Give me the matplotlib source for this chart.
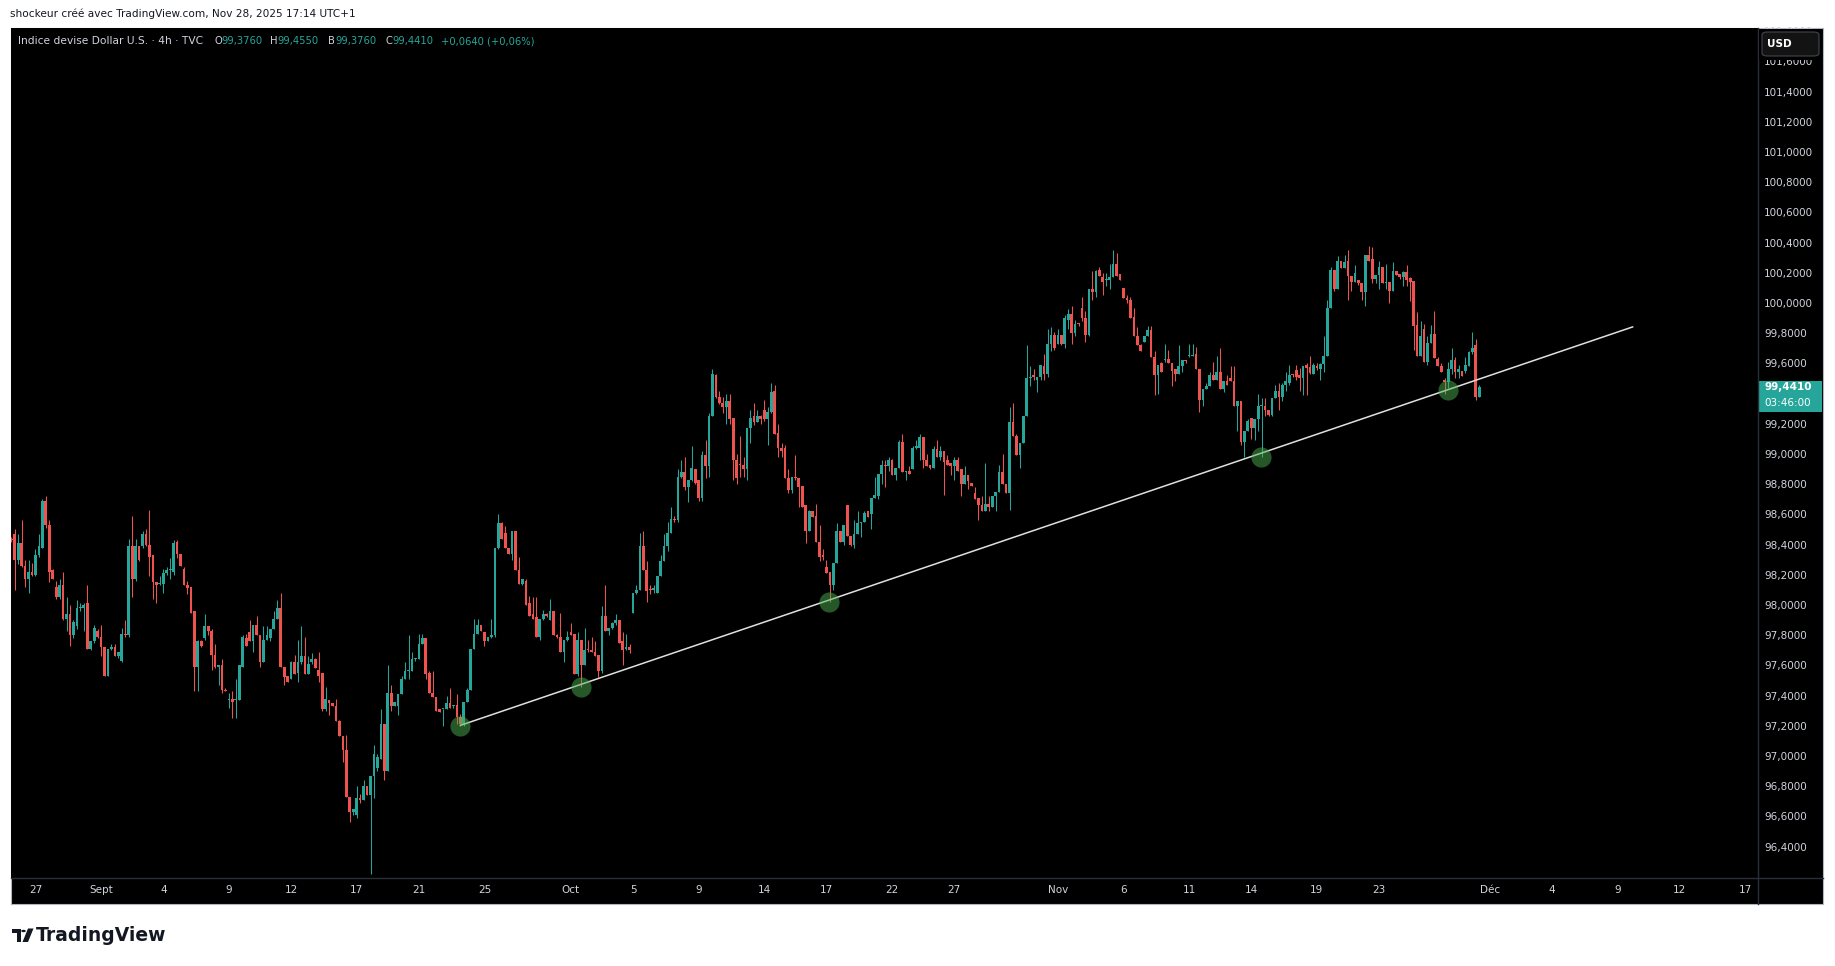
import matplotlib
matplotlib.use("Agg")
import matplotlib.pyplot as plt
from matplotlib.patches import Rectangle, FancyBboxPatch, Circle, Polygon
from matplotlib.lines import Line2D
from matplotlib.transforms import blended_transform_factory
import numpy as np

# ---- data: DXY 4h candles, Aug 26 -> Nov 28 2025 ----
opens = [
    98.44, 98.47, 98.30, 98.41, 98.26, 98.17, 98.22, 98.20, 98.33, 98.38,
    98.69, 98.53, 98.23, 98.12, 98.05, 98.13, 97.91, 97.94, 97.80, 97.86,
    97.98, 97.98, 98.01, 97.71, 97.76, 97.83, 97.79, 97.72, 97.53, 97.71,
    97.72, 97.66, 97.63, 97.81, 97.80, 98.39, 98.17, 98.39, 98.39, 98.47,
    98.40, 98.33, 98.15, 98.14, 98.14, 98.21, 98.23, 98.22, 98.42, 98.34,
    98.24, 98.13, 98.12, 97.96, 97.59, 97.76, 97.78, 97.86, 97.83, 97.67,
    97.59, 97.60, 97.44, 97.37, 97.38, 97.37, 97.37, 97.59, 97.78, 97.82,
    97.76, 97.87, 97.80, 97.62, 97.77, 97.78, 97.84, 97.91, 97.98, 97.59,
    97.53, 97.51, 97.62, 97.55, 97.62, 97.66, 97.54, 97.62, 97.64, 97.57,
    97.55, 97.31, 97.37, 97.35, 97.33, 97.23, 97.13, 97.04, 96.73, 96.63,
    96.61, 96.72, 96.71, 96.80, 96.74, 96.87, 96.92, 96.98, 97.21, 96.90,
    97.42, 97.33, 97.33, 97.41, 97.51, 97.56, 97.56, 97.64, 97.64, 97.74,
    97.78, 97.55, 97.42, 97.39, 97.31, 97.31, 97.31, 97.35, 97.33, 97.34,
    97.26, 97.21, 97.36, 97.44, 97.71, 97.81, 97.87, 97.82, 97.76, 97.79,
    97.80, 98.38, 98.54, 98.48, 98.38, 98.34, 98.49, 98.23, 98.14, 98.16,
    98.01, 97.94, 97.92, 97.79, 97.91, 97.94, 97.90, 97.96, 97.80, 97.79,
    97.69, 97.77, 97.82, 97.81, 97.54, 97.77, 97.60, 97.71, 97.70, 97.69,
    97.67, 97.56, 97.93, 97.83, 97.85, 97.88, 97.90, 97.76, 97.71, 97.72,
    97.95, 98.08, 98.10, 98.39, 98.23, 98.105, 98.10, 98.08, 98.19, 98.29,
    98.39, 98.48, 98.57, 98.56, 98.85, 98.88, 98.78, 98.83, 98.90, 98.83,
    98.71, 98.99, 98.92, 99.25, 99.52, 99.38, 99.34, 99.31, 99.35, 99.24,
    98.96, 98.935, 98.93, 98.90, 99.17, 99.25, 99.21, 99.25, 99.29, 99.23,
    99.28, 99.42, 99.14, 99.04, 99.04, 98.84, 98.76, 98.85, 98.84, 98.79,
    98.66, 98.49, 98.62, 98.59, 98.42, 98.33, 98.25, 98.22, 98.13, 98.28,
    98.49, 98.42, 98.66, 98.46, 98.40, 98.47, 98.54, 98.55, 98.62, 98.60,
    98.71, 98.72, 98.87, 98.93, 98.92, 98.96, 98.86, 98.91, 99.08, 98.88,
    98.89, 98.90, 99.04, 99.04, 99.11, 98.96, 98.93, 98.91, 99.03, 98.98,
    99.02, 98.96, 98.94, 98.92, 98.96, 98.90, 98.80, 98.86, 98.81, 98.74,
    98.71, 98.66, 98.62, 98.67, 98.65, 98.72, 98.75, 98.88, 98.80, 98.74,
    99.21, 99.12, 98.99, 99.07, 99.25, 99.50, 99.52, 99.49, 99.51, 99.58,
    99.53, 99.73, 99.79, 99.73, 99.79, 99.73, 99.89, 99.93, 99.80, 99.87,
    99.97, 99.90, 99.79, 100.09, 100.07, 100.22, 100.17, 100.15, 100.15, 100.17,
    100.26, 100.19, 100.10, 100.03, 100.02, 99.91, 99.78, 99.72, 99.74, 99.78,
    99.82, 99.64, 99.52, 99.60, 99.62, 99.63, 99.60, 99.56, 99.53, 99.58,
    99.62, 99.65, 99.65, 99.66, 99.56, 99.36, 99.43, 99.45, 99.52, 99.49,
    99.545, 99.43, 99.48, 99.50, 99.48, 99.32, 99.35, 99.08, 99.15, 99.24,
    99.17, 99.23, 99.32, 99.32, 99.29, 99.26, 99.37, 99.42, 99.38, 99.46,
    99.47, 99.53, 99.556, 99.52, 99.50, 99.59, 99.578, 99.53, 99.58, 99.56,
    99.596, 99.65, 99.97, 100.22, 100.09, 100.28, 100.23, 100.28, 100.18, 100.14,
    100.15, 100.13, 100.07, 100.32, 100.29, 100.16, 100.185, 100.236, 100.13, 100.14,
    100.08, 100.21, 100.19, 100.174, 100.207, 100.163, 100.145, 99.854, 99.649, 99.825,
    99.607, 99.733, 99.794, 99.629, 99.582, 99.49, 99.479, 99.56, 99.622, 99.545,
    99.549, 99.549, 99.582, 99.675, 99.721, 99.376,
]
highs = [
    98.45, 98.50, 98.47, 98.56, 98.30, 98.30, 98.28, 98.37, 98.47, 98.70,
    98.72, 98.56, 98.24, 98.16, 98.17, 98.22, 98.05, 98.00, 97.90, 98.03,
    98.01, 98.01, 98.13, 97.76, 97.87, 97.84, 97.87, 97.72, 97.71, 97.74,
    97.74, 97.69, 97.85, 97.90, 98.44, 98.59, 98.44, 98.39, 98.49, 98.50,
    98.63, 98.33, 98.15, 98.19, 98.24, 98.25, 98.31, 98.43, 98.43, 98.34,
    98.25, 98.16, 98.12, 97.96, 97.77, 97.77, 97.94, 97.86, 97.84, 97.74,
    97.60, 97.64, 97.45, 97.42, 97.43, 97.51, 97.60, 97.80, 97.81, 97.90,
    97.87, 97.93, 97.80, 97.86, 97.86, 97.84, 97.96, 98.03, 98.08, 97.59,
    97.53, 97.63, 97.67, 97.77, 97.86, 97.79, 97.66, 97.68, 97.65, 97.69,
    97.55, 97.46, 97.37, 97.35, 97.38, 97.24, 97.13, 97.14, 96.73, 96.65,
    96.80, 96.75, 96.84, 96.80, 96.87, 97.07, 97.01, 97.31, 97.21, 97.60,
    97.47, 97.36, 97.41, 97.53, 97.62, 97.80, 97.69, 97.65, 97.81, 97.81,
    97.78, 97.56, 97.56, 97.39, 97.31, 97.31, 97.40, 97.45, 97.34, 97.41,
    97.28, 97.36, 97.45, 97.71, 97.91, 97.91, 97.87, 97.82, 97.79, 97.91,
    98.38, 98.60, 98.55, 98.52, 98.38, 98.49, 98.49, 98.32, 98.17, 98.17,
    98.06, 98.05, 98.05, 97.91, 97.97, 97.95, 98.04, 97.96, 97.81, 97.95,
    97.77, 97.83, 97.88, 97.81, 97.82, 97.77, 97.85, 97.77, 97.79, 97.76,
    97.67, 97.99, 98.13, 97.85, 97.89, 97.94, 97.90, 97.82, 97.81, 97.74,
    98.08, 98.13, 98.48, 98.49, 98.29, 98.13, 98.13, 98.19, 98.33, 98.47,
    98.55, 98.65, 98.59, 98.90, 98.96, 98.98, 98.83, 99.05, 98.90, 98.83,
    99.02, 99.09, 99.27, 99.56, 99.53, 99.42, 99.38, 99.40, 99.40, 99.24,
    99.00, 99.12, 98.98, 99.17, 99.29, 99.34, 99.29, 99.26, 99.36, 99.31,
    99.47, 99.46, 99.20, 99.07, 99.06, 98.90, 98.85, 98.99, 98.84, 98.79,
    98.66, 98.63, 98.62, 98.67, 98.53, 98.37, 98.30, 98.22, 98.28, 98.54,
    98.49, 98.53, 98.66, 98.46, 98.56, 98.62, 98.55, 98.62, 98.62, 98.71,
    98.85, 98.87, 98.96, 98.96, 98.98, 98.97, 98.91, 99.09, 99.13, 98.89,
    98.92, 99.05, 99.09, 99.13, 99.11, 99.00, 98.93, 99.05, 99.09, 99.05,
    99.02, 98.99, 98.94, 98.98, 98.98, 98.90, 98.92, 98.86, 98.81, 98.78,
    98.71, 98.72, 98.94, 98.72, 98.72, 98.75, 98.93, 99.00, 98.80, 99.31,
    99.34, 99.13, 99.07, 99.25, 99.72, 99.58, 99.56, 99.51, 99.59, 99.66,
    99.83, 99.84, 99.81, 99.83, 99.79, 99.92, 99.96, 99.98, 99.89, 99.87,
    100.04, 99.95, 100.09, 100.21, 100.22, 100.24, 100.20, 100.20, 100.26, 100.35,
    100.33, 100.19, 100.10, 100.05, 100.04, 99.97, 99.84, 99.73, 99.78, 99.85,
    99.85, 99.68, 99.59, 99.61, 99.73, 99.69, 99.60, 99.56, 99.72, 99.62,
    99.62, 99.73, 99.73, 99.71, 99.56, 99.43, 99.47, 99.54, 99.61, 99.65,
    99.70, 99.48, 99.52, 99.58, 99.58, 99.35, 99.35, 99.15, 99.23, 99.24,
    99.23, 99.40, 99.37, 99.37, 99.29, 99.37, 99.46, 99.47, 99.47, 99.54,
    99.59, 99.53, 99.59, 99.57, 99.58, 99.60, 99.65, 99.60, 99.60, 99.60,
    99.78, 100.02, 100.24, 100.22, 100.31, 100.28, 100.32, 100.35, 100.18, 100.25,
    100.15, 100.13, 100.32, 100.38, 100.37, 100.185, 100.28, 100.236, 100.26, 100.14,
    100.27, 100.21, 100.19, 100.21, 100.25, 100.17, 100.145, 99.94, 99.88, 99.86,
    99.78, 99.854, 99.946, 99.644, 99.60, 99.50, 99.61, 99.70, 99.644, 99.589,
    99.549, 99.644, 99.68, 99.81, 99.761, 99.455,
]
lows = [
    98.42, 98.10, 98.27, 98.25, 98.12, 98.08, 98.19, 98.19, 98.32, 98.38,
    98.51, 98.15, 98.17, 98.04, 98.04, 97.90, 97.83, 97.73, 97.78, 97.84,
    97.96, 97.83, 97.71, 97.70, 97.75, 97.78, 97.66, 97.53, 97.53, 97.70,
    97.66, 97.65, 97.62, 97.79, 97.79, 98.05, 98.16, 98.29, 98.38, 98.39,
    98.19, 98.04, 98.01, 98.13, 98.08, 98.20, 98.17, 98.20, 98.31, 98.26,
    98.13, 98.07, 97.95, 97.43, 97.43, 97.72, 97.77, 97.80, 97.57, 97.58,
    97.47, 97.42, 97.43, 97.32, 97.25, 97.25, 97.37, 97.59, 97.73, 97.76,
    97.69, 97.80, 97.59, 97.62, 97.77, 97.76, 97.84, 97.91, 97.59, 97.47,
    97.49, 97.51, 97.54, 97.49, 97.61, 97.54, 97.54, 97.61, 97.58, 97.49,
    97.30, 97.30, 97.27, 97.33, 97.23, 97.13, 96.96, 96.73, 96.56, 96.61,
    96.59, 96.69, 96.71, 96.74, 96.22, 96.72, 96.90, 96.98, 96.84, 96.90,
    97.30, 97.33, 97.27, 97.41, 97.51, 97.51, 97.56, 97.63, 97.64, 97.74,
    97.51, 97.42, 97.39, 97.30, 97.29, 97.20, 97.31, 97.32, 97.32, 97.21,
    97.20, 97.20, 97.36, 97.44, 97.71, 97.81, 97.83, 97.73, 97.76, 97.78,
    97.79, 98.37, 98.44, 98.38, 98.34, 98.30, 98.23, 98.14, 98.13, 98.00,
    97.93, 97.91, 97.79, 97.77, 97.90, 97.92, 97.90, 97.80, 97.78, 97.69,
    97.62, 97.76, 97.80, 97.54, 97.53, 97.46, 97.60, 97.69, 97.69, 97.66,
    97.52, 97.55, 97.83, 97.80, 97.84, 97.87, 97.75, 97.60, 97.70, 97.68,
    97.95, 98.07, 98.10, 98.23, 98.02, 98.07, 98.08, 98.08, 98.19, 98.29,
    98.36, 98.48, 98.55, 98.55, 98.84, 98.76, 98.68, 98.82, 98.80, 98.69,
    98.69, 98.84, 98.85, 99.25, 99.37, 99.33, 99.27, 99.20, 99.20, 98.83,
    98.80, 98.85, 98.85, 98.83, 99.07, 99.19, 99.21, 99.20, 99.22, 99.06,
    99.27, 99.13, 98.98, 98.98, 98.84, 98.74, 98.74, 98.83, 98.65, 98.65,
    98.41, 98.49, 98.58, 98.42, 98.29, 98.30, 98.21, 98.02, 98.10, 98.28,
    98.42, 98.40, 98.46, 98.39, 98.38, 98.47, 98.45, 98.55, 98.58, 98.50,
    98.71, 98.70, 98.80, 98.78, 98.89, 98.86, 98.83, 98.91, 98.88, 98.83,
    98.87, 98.90, 99.03, 98.96, 98.91, 98.92, 98.90, 98.91, 98.98, 98.96,
    98.73, 98.93, 98.86, 98.83, 98.89, 98.72, 98.80, 98.77, 98.79, 98.70,
    98.56, 98.62, 98.62, 98.62, 98.65, 98.62, 98.75, 98.80, 98.74, 98.63,
    99.12, 98.99, 98.91, 99.07, 99.25, 99.45, 99.49, 99.41, 99.49, 99.49,
    99.51, 99.68, 99.69, 99.73, 99.72, 99.70, 99.83, 99.73, 99.78, 99.85,
    99.88, 99.74, 99.78, 100.02, 100.04, 100.18, 100.05, 100.11, 100.09, 100.17,
    100.18, 100.15, 100.03, 100.00, 99.90, 99.78, 99.72, 99.68, 99.74, 99.78,
    99.64, 99.39, 99.40, 99.54, 99.61, 99.60, 99.45, 99.48, 99.53, 99.54,
    99.60, 99.64, 99.65, 99.56, 99.28, 99.32, 99.43, 99.45, 99.49, 99.49,
    99.43, 99.41, 99.46, 99.48, 99.32, 99.15, 99.06, 98.98, 99.15, 99.10,
    99.09, 99.15, 98.98, 99.25, 99.25, 99.25, 99.37, 99.29, 99.35, 99.42,
    99.46, 99.51, 99.49, 99.42, 99.39, 99.39, 99.53, 99.53, 99.556, 99.49,
    99.54, 99.65, 99.97, 100.08, 100.09, 100.23, 100.23, 100.02, 100.08, 100.14,
    100.12, 100.02, 99.98, 100.28, 100.13, 100.13, 100.09, 100.134, 100.09, 100.00,
    100.08, 100.185, 100.16, 100.11, 100.11, 100.015, 99.69, 99.649, 99.649, 99.607,
    99.589, 99.733, 99.633, 99.582, 99.545, 99.40, 99.44, 99.53, 99.50, 99.505,
    99.518, 99.534, 99.58, 99.662, 99.36, 99.376,
]
closes = [
    98.43, 98.30, 98.41, 98.26, 98.17, 98.22, 98.20, 98.33, 98.39, 98.69,
    98.53, 98.22, 98.17, 98.05, 98.13, 97.91, 97.94, 97.80, 97.89, 97.98,
    97.98, 98.00, 97.71, 97.76, 97.85, 97.79, 97.72, 97.53, 97.71, 97.72,
    97.66, 97.69, 97.81, 97.80, 98.39, 98.17, 98.39, 98.30, 98.47, 98.40,
    98.32, 98.15, 98.13, 98.14, 98.21, 98.23, 98.23, 98.41, 98.34, 98.26,
    98.13, 98.11, 97.95, 97.59, 97.76, 97.73, 97.86, 97.83, 97.67, 97.59,
    97.60, 97.44, 97.43, 97.38, 97.36, 97.38, 97.60, 97.79, 97.73, 97.76,
    97.87, 97.80, 97.62, 97.77, 97.80, 97.84, 97.91, 97.98, 97.59, 97.52,
    97.49, 97.62, 97.54, 97.62, 97.66, 97.54, 97.61, 97.64, 97.58, 97.53,
    97.31, 97.38, 97.35, 97.33, 97.23, 97.13, 97.04, 96.73, 96.63, 96.65,
    96.72, 96.71, 96.80, 96.74, 96.87, 97.01, 96.99, 97.21, 96.90, 97.42,
    97.33, 97.36, 97.41, 97.51, 97.56, 97.57, 97.64, 97.645, 97.74, 97.78,
    97.54, 97.42, 97.39, 97.30, 97.29, 97.315, 97.35, 97.32, 97.335, 97.26,
    97.21, 97.36, 97.44, 97.71, 97.81, 97.87, 97.83, 97.76, 97.79, 97.80,
    98.38, 98.54, 98.44, 98.38, 98.34, 98.49, 98.23, 98.14, 98.17, 98.00,
    97.93, 97.91, 97.79, 97.91, 97.94, 97.93, 97.96, 97.80, 97.79, 97.69,
    97.77, 97.79, 97.80, 97.54, 97.77, 97.60, 97.70, 97.70, 97.69, 97.66,
    97.56, 97.93, 97.83, 97.85, 97.88, 97.90, 97.75, 97.70, 97.72, 97.70,
    98.08, 98.10, 98.39, 98.23, 98.09, 98.10, 98.11, 98.19, 98.29, 98.39,
    98.48, 98.57, 98.56, 98.85, 98.88, 98.78, 98.83, 98.91, 98.81, 98.71,
    98.99, 98.92, 99.25, 99.53, 99.38, 99.34, 99.31, 99.35, 99.23, 98.96,
    98.84, 98.93, 98.90, 99.17, 99.24, 99.21, 99.25, 99.23, 99.23, 99.28,
    99.41, 99.13, 99.04, 99.02, 98.84, 98.76, 98.85, 98.84, 98.78, 98.65,
    98.49, 98.62, 98.58, 98.42, 98.32, 98.32, 98.21, 98.13, 98.28, 98.49,
    98.42, 98.53, 98.46, 98.40, 98.47, 98.54, 98.55, 98.61, 98.58, 98.71,
    98.73, 98.87, 98.93, 98.92, 98.96, 98.86, 98.91, 99.08, 98.88, 98.89,
    98.87, 99.04, 99.05, 99.11, 98.96, 98.92, 98.91, 99.03, 98.98, 99.02,
    98.95, 98.93, 98.92, 98.96, 98.89, 98.80, 98.86, 98.82, 98.79, 98.70,
    98.66, 98.62, 98.67, 98.65, 98.72, 98.75, 98.88, 98.80, 98.74, 99.21,
    99.12, 98.99, 99.07, 99.25, 99.50, 99.51, 99.51, 99.51, 99.59, 99.53,
    99.73, 99.79, 99.70, 99.79, 99.73, 99.90, 99.93, 99.80, 99.86, 99.86,
    99.90, 99.79, 100.09, 100.07, 100.21, 100.18, 100.14, 100.155, 100.17, 100.26,
    100.18, 100.15, 100.03, 100.02, 99.90, 99.78, 99.72, 99.68, 99.78, 99.82,
    99.64, 99.52, 99.59, 99.54, 99.625, 99.60, 99.55, 99.53, 99.58, 99.62,
    99.615, 99.655, 99.657, 99.56, 99.36, 99.43, 99.45, 99.52, 99.49, 99.545,
    99.43, 99.48, 99.46, 99.48, 99.32, 99.35, 99.08, 99.15, 99.22, 99.17,
    99.23, 99.32, 99.325, 99.29, 99.26, 99.37, 99.42, 99.38, 99.46, 99.48,
    99.52, 99.52, 99.512, 99.50, 99.58, 99.57, 99.534, 99.59, 99.57, 99.596,
    99.65, 99.97, 100.22, 100.09, 100.28, 100.23, 100.27, 100.18, 100.14, 100.20,
    100.13, 100.07, 100.32, 100.28, 100.16, 100.185, 100.236, 100.134, 100.135, 100.08,
    100.21, 100.185, 100.17, 100.203, 100.15, 100.141, 99.847, 99.649, 99.781, 99.607,
    99.733, 99.794, 99.633, 99.582, 99.545, 99.479, 99.56, 99.622, 99.545, 99.56,
    99.518, 99.589, 99.675, 99.699, 99.377, 99.441,
]

# date axis (bar index where each label's day starts)
date_ticks = [7, 26, 44, 63, 81, 100, 118, 137, 162, 180, 199, 218, 236,
              255, 273, 303, 322, 341, 359, 378, 396, 428, 446, 465, 483, 502]
date_labels = ["27", "Sept", "4", "9", "12", "17", "21", "25", "Oct", "5",
               "9", "14", "17", "22", "27", "Nov", "6", "11", "14", "19",
               "23", "Déc", "4", "9", "12", "17"]
price_ticks = [round(96.4 + 0.2 * k, 1) for k in range(28)]

# trend line and touch points
trend_x = [129.8, 469.6]
trend_y = [97.201, 99.843]
touch_x = [129.8, 164.9, 236.8, 361.8, 415.9]
touch_y = [97.201, 97.455, 98.022, 98.982, 99.423]

countdown = "03:46:00"

# ---- styling ----
UP = "#26a69a"
DOWN = "#ef5350"
TXT = "#d1d4dc"
SEP = "#2a2e39"

W, H = 1835, 966
fig = plt.figure(figsize=(W / 100, H / 100), dpi=100, facecolor="white")


def fx(px):
    return px / W


def fy(py):
    return 1 - py / H


def fmt(v):
    return f"{v:.4f}".replace(".", ",")


L, R, T, B = 10.5, 1758, 28, 878
RR, BB = 1823, 903.5

bg = fig.add_axes([fx(L), fy(BB), fx(RR - L), (BB - T) / H])
bg.set_facecolor("black")
bg.set_xticks([])
bg.set_yticks([])
for s in bg.spines.values():
    s.set_color("#b2b5be")
    s.set_linewidth(0.8)

ax = fig.add_axes([fx(L), fy(B), fx(R - L), (B - T) / H])
ax.set_facecolor("black")
for s in ax.spines.values():
    s.set_visible(False)

o = np.array(opens)
h = np.array(highs)
lo = np.array(lows)
c = np.array(closes)
idx = np.arange(len(c))
cols = np.where(c >= o, UP, DOWN)

ax.vlines(idx, lo, h, colors=cols, linewidth=0.75, zorder=2)
ax.bar(idx, np.maximum(np.abs(c - o), 0.006), bottom=np.minimum(o, c),
       width=0.78, color=cols, linewidth=0, zorder=2)

ax.plot(trend_x, trend_y, color="#e0e0e0", lw=1.1, zorder=3,
        solid_capstyle="butt")
ax.scatter(touch_x, touch_y, s=210, color="#4caf50", alpha=0.5,
           linewidths=0, zorder=4)

ax.set_xlim(-0.23, 505.7)
ax.set_ylim(96.192, 101.821)

ax.yaxis.tick_right()
ax.set_yticks(price_ticks)
ax.set_yticklabels([fmt(v) for v in price_ticks])
ax.set_xticks(date_ticks)
ax.set_xticklabels(date_labels)
ax.tick_params(axis="both", length=0, labelcolor=TXT, labelsize=7.5)
ax.tick_params(axis="y", pad=4.5)
ax.tick_params(axis="x", pad=5)

# separators
fig.add_artist(Line2D([fx(R), fx(R)], [fy(T), fy(BB)], color=SEP, lw=1,
                      transform=fig.transFigure))
fig.add_artist(Line2D([fx(L), fx(RR)], [fy(B), fy(B)], color=SEP, lw=1,
                      transform=fig.transFigure))

# last price label
tr = blended_transform_factory(ax.transAxes, ax.transData)
last = closes[-1]
pw = (1821 - R) / (R - L)
ax.add_patch(Rectangle((1.0005, last - 0.161), pw, 0.205, transform=tr,
                       facecolor=UP, edgecolor="none", clip_on=False, zorder=6))
ax.text(1.0 + 6 / (R - L), last, fmt(last), transform=tr, color="white",
        fontsize=7.5, fontweight="bold", va="center", ha="left",
        clip_on=False, zorder=7)
ax.text(1.0 + 6 / (R - L), last - 0.101, countdown, transform=tr,
        color="white", fontsize=7.5, va="center", ha="left",
        clip_on=False, zorder=7)

# USD box (covers the top price label)
fig.add_artist(Rectangle((fx(R + 1), fy(59.5)), fx(RR - R - 2), (59.5 - T - 1) / H,
                         transform=fig.transFigure, facecolor="black",
                         edgecolor="none", zorder=8))
fig.add_artist(FancyBboxPatch((fx(1762), fy(56)), fx(57), 24 / H,
                              boxstyle="round,pad=0,rounding_size=0.003",
                              transform=fig.transFigure, facecolor="#131313",
                              edgecolor="#434651", lw=0.8, zorder=9))
fig.text(fx(1767), fy(44), "USD", color="white", fontsize=7.5,
         fontweight="bold", va="center", ha="left", zorder=10)

# header
fig.text(fx(9.5), fy(14), "shockeur créé avec TradingView.com, Nov 28, 2025 17:14 UTC+1",
         color="#131722", fontsize=7.6, va="center", ha="left")

# legend row
renderer = fig.canvas.get_renderer()
ly = fy(41)
fig.text(fx(17.5), ly, "Indice devise Dollar U.S. · 4h · TVC", color=TXT,
         fontsize=7.7, va="center", ha="left")
chg = closes[-1] - closes[-2]
pct = chg / closes[-2] * 100
groups = [(214, "O", fmt(opens[-1])), (270, "H", fmt(highs[-1])),
          (328, "B", fmt(lows[-1])), (385, "C", fmt(closes[-1]))]
for gx, letter, val in groups:
    t = fig.text(fx(gx), ly, letter, color=TXT, fontsize=7.2, va="center", ha="left")
    wpx = t.get_window_extent(renderer).width
    fig.text(fx(gx + wpx), ly, val, color=UP, fontsize=7.2, va="center", ha="left")
fig.text(fx(441), ly, f"{chg:+.4f} ({pct:+.2f}%)".replace(".", ","), color=UP,
         fontsize=7.2, va="center", ha="left")

# TradingView logo
LOGO = "#131722"
fig.add_artist(Polygon([(fx(12), fy(928.5)), (fx(20.5), fy(928.5)), (fx(20.5), fy(942)),
                        (fx(16.5), fy(942)), (fx(16.5), fy(933)), (fx(12), fy(933))],
                       closed=True, transform=fig.transFigure, facecolor=LOGO,
                       edgecolor="none"))
fig.add_artist(Circle((fx(23.5), fy(931)), 2.3 / W, transform=fig.transFigure,
                      facecolor=LOGO, edgecolor="none"))
fig.add_artist(Polygon([(fx(28), fy(928.5)), (fx(33.5), fy(928.5)), (fx(28), fy(942)),
                        (fx(22.5), fy(942))], closed=True,
                       transform=fig.transFigure, facecolor=LOGO, edgecolor="none"))
fig.text(fx(36), fy(935.5), "TradingView", color=LOGO, fontsize=13.5,
         fontweight="bold", va="center", ha="left")

fig.savefig("out.png", dpi=100, facecolor="white")
